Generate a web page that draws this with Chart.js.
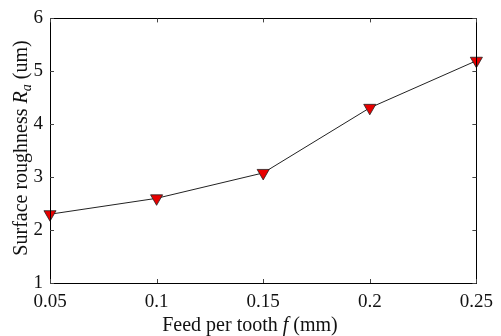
<!DOCTYPE html>
<html>
<head>
<meta charset="utf-8">
<script src="https://cdn.jsdelivr.net/npm/chart.js@4"></script>
<style>
  html, body { margin: 0; padding: 0; background: #fff; }
  #wrap { width: 501px; height: 336px; position: relative; }
</style>
</head>
<body>
<div id="wrap"><canvas id="chart" width="501" height="336"></canvas></div>
<script>
const feed = [0.05, 0.1, 0.15, 0.2, 0.25];
const roughness = [2.3, 2.6, 3.08, 4.31, 5.2];
const xTicks = [0.05, 0.1, 0.15, 0.2, 0.25];
const yTicks = [1, 2, 3, 4, 5, 6];

const FONT = '"Liberation Serif", "Times New Roman", serif';

// box + inward ticks + axis titles
const frame = {
    id: 'frame',
    afterDraw(chart) {
        const { ctx, chartArea: a, scales: { x, y } } = chart;
        ctx.save();
        ctx.strokeStyle = '#000';
        ctx.lineWidth = 1;
        ctx.strokeRect(Math.round(a.left) + 0.5, Math.round(a.top) + 0.5,
            Math.round(a.right - a.left), Math.round(a.bottom - a.top));
        ctx.strokeStyle = '#444';
        ctx.beginPath();
        xTicks.forEach(v => {
            const px = Math.round(x.getPixelForValue(v)) + 0.5;
            ctx.moveTo(px, a.bottom); ctx.lineTo(px, a.bottom - 4);
            ctx.moveTo(px, a.top); ctx.lineTo(px, a.top + 4);
        });
        yTicks.forEach(v => {
            const py = Math.round(y.getPixelForValue(v)) + 0.5;
            ctx.moveTo(a.left, py); ctx.lineTo(a.left + 4, py);
            ctx.moveTo(a.right, py); ctx.lineTo(a.right - 4, py);
        });
        ctx.stroke();

        ctx.fillStyle = '#111';
        ctx.textBaseline = 'alphabetic';
        // x title
        const xParts = [['Feed per tooth ', ''], ['f', 'italic '], [' (mm)', '']];
        drawParts(ctx, xParts, 250, 331, 20);
        // y title
        ctx.translate(27, 148);
        ctx.rotate(-Math.PI / 2);
        const yParts = [['Surface roughness ', ''], ['R', 'italic '], ['a', 'italic ', 'sub'], [' (um)', '']];
        drawParts(ctx, yParts, 0, 0, 20);
        ctx.restore();
    }
};

function drawParts(ctx, parts, cx, base, size) {
    const measure = p => {
        ctx.font = p[1] + (p[2] ? Math.round(size * 0.7) : size) + 'px ' + FONT;
        return ctx.measureText(p[0]).width;
    };
    const total = parts.reduce((s, p) => s + measure(p), 0);
    let xx = cx - total / 2;
    ctx.textAlign = 'left';
    parts.forEach(p => {
        const w = measure(p);
        ctx.fillText(p[0], xx, base + (p[2] ? 4 : 0));
        xx += w;
    });
}

new Chart(document.getElementById('chart'), {
    type: 'line',
    data: {
        datasets: [{
            data: feed.map((f, i) => ({ x: f, y: roughness[i] })),
            borderColor: '#222',
            borderWidth: 1,
            pointStyle: 'triangle',
            rotation: 180,
            pointRadius: 7,
            pointBackgroundColor: '#e80000',
            pointBorderColor: '#222',
            pointBorderWidth: 0.8,
            tension: 0,
            clip: false,
        }],
    },
    options: {
        responsive: false,
        animation: false,
        events: [],
        layout: { padding: { left: 0, top: 16, right: 18, bottom: 0 } },
        plugins: { legend: { display: false }, tooltip: { enabled: false } },
        scales: {
            x: {
                type: 'linear', min: 0.05, max: 0.25,
                afterBuildTicks: s => { s.ticks = xTicks.map(v => ({ value: v })); },
                afterFit: s => { s.height = 53; },
                grid: { display: false, drawTicks: false },
                border: { display: false },
                ticks: {
                    color: '#111', padding: 8, maxRotation: 0,
                    font: { family: FONT, size: 19 },
                    callback: v => String(v),
                },
            },
            y: {
                type: 'linear', min: 1, max: 6,
                afterBuildTicks: s => { s.ticks = yTicks.map(v => ({ value: v })); },
                afterFit: s => { s.width = 50; },
                grid: { display: false, drawTicks: false },
                border: { display: false },
                ticks: {
                    color: '#111', padding: 7,
                    font: { family: FONT, size: 19 },
                },
            },
        },
    },
    plugins: [frame],
});
</script>
</body>
</html>
